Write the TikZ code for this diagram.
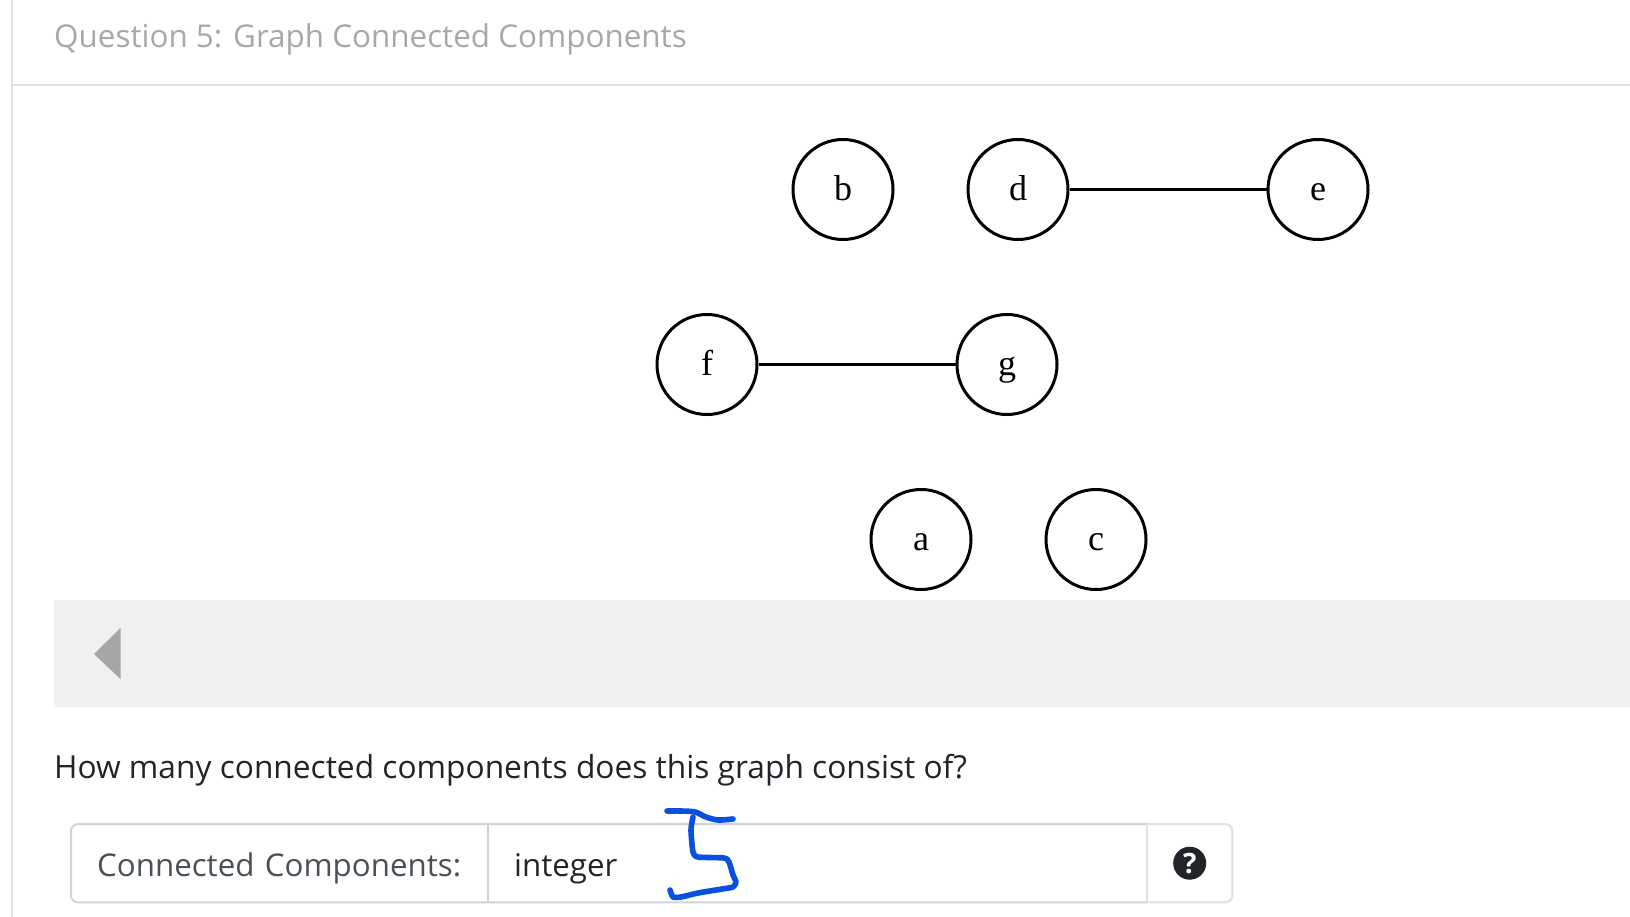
\documentclass[tikz,border=0pt]{standalone}
\usepackage{fontspec}
\usepackage{xcolor}
\usetikzlibrary{matrix}
\setmainfont{Open Sans}
\newfontfamily\labelfont{Liberation Serif}
\definecolor{panelgray}{HTML}{F0F0F0}
\definecolor{rulegray}{HTML}{E2E2E2}
\definecolor{fieldgray}{HTML}{CED4DA}
\definecolor{lightfield}{HTML}{DEE2E6}
\definecolor{inkdark}{HTML}{212529}
\definecolor{addontext}{HTML}{495057}
\definecolor{penblue}{HTML}{0A50E0}
\tikzset{
 vertex/.style={draw, circle, line width=3pt, minimum size=100pt, inner sep=0pt, text height=22pt, text depth=0pt, font=\labelfont\fontsize{36}{36}\selectfont},
 edge/.style={line width=3pt},
 pen/.style={draw=penblue, line width=5.6pt, line cap=round, line join=round},
}
\begin{document}
\begin{tikzpicture}[x=1pt, y=-1pt]
\useasboundingbox (0,0) rectangle (1630,917);
\fill[white] (0,0) rectangle (1630,917);
\coordinate (railtop) at (12,0);
\coordinate (railend) at (12,917);
\coordinate (headstart) at (13,85);
\coordinate (headend) at (1630,85);
\draw[rulegray, line width=1.8pt] (railtop) -- (railend);
\draw[rulegray, line width=1.8pt] (headstart) -- (headend);
\node[anchor=base west, inner sep=0pt, text=black!34, font=\fontsize{31.4}{32}\selectfont] (title) at (54,47.5) {Question 5: Graph Connected Components};
\fill[panelgray] (54,600) rectangle (1630,707);
\fill[black!35] (94,654) -- (120.5,628) -- (120.5,679) -- cycle;
\node[vertex] (b) at (843,189.5) {b};
\node[vertex] (d) at (1018,189.5) {d};
\node[vertex] (e) at (1318,189.5) {e};
\node[vertex] (f) at (707,364.5) {f};
\node[vertex] (g) at (1007,364.5) {g};
\node[vertex] (a) at (921,539.5) {a};
\node[vertex] (c) at (1096,539.5) {c};
\draw[edge] (d) -- (e);
\draw[edge] (f) -- (g);
\node[anchor=base west, inner sep=0pt, text=inkdark, font=\fontsize{31.7}{32}\selectfont] (prompt) at (54,778) {How many connected components does this graph consist of?};
\matrix[matrix of nodes, inner sep=0pt, anchor=north west, nodes in empty cells, column sep=0pt,
 nodes={anchor=center, inner xsep=26pt, inner ysep=15pt, text height=37pt, text depth=11pt, align=left, font=\fontsize{31.3}{32}\selectfont},
 column 1/.style={nodes={text width=365pt, text=addontext}},
 column 2/.style={nodes={text width=607pt, text=inkdark}},
 column 3/.style={nodes={text width=33pt}}] (answer) at (71,824) {
 Connected Components: & integer & \\
};
\draw[fieldgray, line width=2pt, rounded corners=7pt] (answer-1-3.north west) -- (answer.north west) -- (answer.south west) -- (answer-1-3.south west);
\draw[lightfield, line width=2pt, rounded corners=7pt] (answer-1-3.north west) -- (answer.north east) -- (answer.south east) -- (answer-1-3.south west);
\draw[fieldgray, line width=2pt] (answer-1-1.north east) -- (answer-1-1.south east);
\draw[lightfield, line width=2pt] (answer-1-2.north east) -- (answer-1-2.south east);
\node[circle, fill=inkdark, text=white, minimum size=33pt, inner sep=0pt, font=\bfseries\fontsize{28}{28}\selectfont] (help) at (answer-1-3) {?};
\draw[pen] plot[smooth, tension=.5] coordinates {(667,811) (681,811) (695,812) (706,817) (718,820) (733,819)};
\draw[pen] plot[smooth, tension=.4] coordinates {(693,817) (691,830) (693,852) (698,857) (724,858) (729,862) (733,875) (736,882) (733,887) (722,889) (698,893) (681,897) (673,897) (670,890)};
\end{tikzpicture}
\end{document}
